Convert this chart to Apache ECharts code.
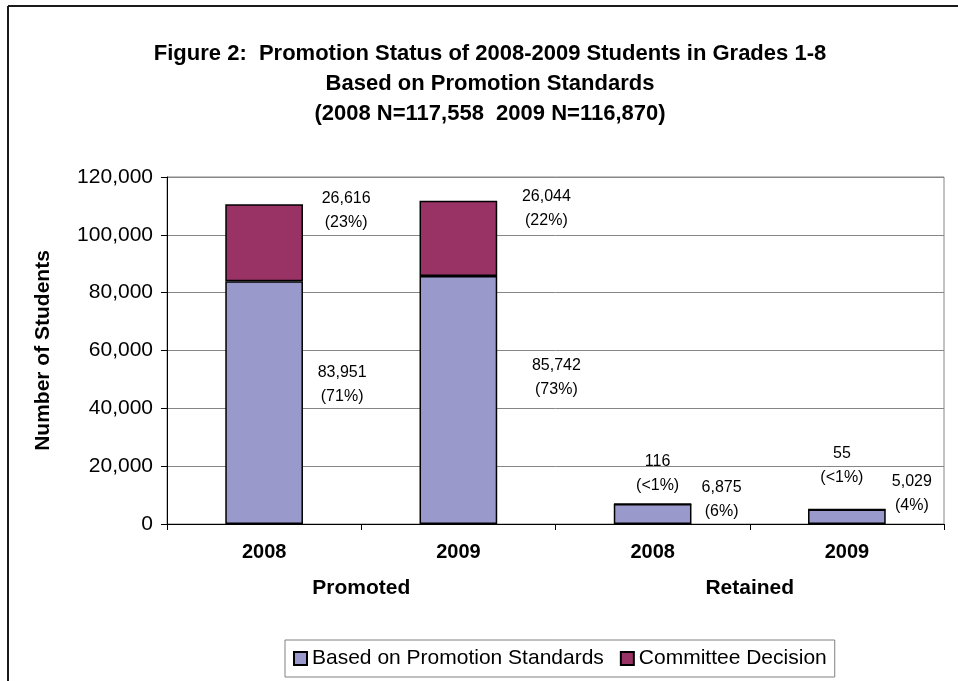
<!DOCTYPE html>
<html>
<head>
<meta charset="utf-8">
<script src="https://cdn.jsdelivr.net/npm/echarts@6/dist/echarts.min.js"></script>
<style>html,body{margin:0;padding:0;background:#fff}#c{width:958px;height:681px}</style>
</head>
<body>
<div id="c"></div>
<script>
const categories = ['2008', '2009', '2008', '2009'];
const groups = ['Promoted', 'Retained'];
const basedValues = [83951, 85742, 6875, 5029];
const committeeValues = [26616, 26044, 116, 55];
const basedPct = ['71%', '73%', '6%', '4%'];
const committeePct = ['23%', '22%', '<1%', '<1%'];
const yTicks = [0, 20000, 40000, 60000, 80000, 100000, 120000];

const FONT = 'Liberation Sans, Arial, sans-serif';
const fmt = v => v.toLocaleString('en-US');

// label offsets relative to bar centre (styling only)
const basedOffsets = [[78, -18], [98, -22], [69, -14], [65, -23]];
const committeeOffsets = [[82, -32], [88, -30], [5, -30], [-5, -44]];

function build(values, pcts, offsets) {
  return values.map((v, i) => ({
    value: v,
    label: {
      show: true, position: 'inside', offset: offsets[i],
      formatter: fmt(v) + '\n(' + pcts[i] + ')'
    }
  }));
}

const chart = echarts.init(document.getElementById('c'));
chart.setOption({
  backgroundColor: '#fff',
  animation: false,
  title: {
    text: 'Figure 2:  Promotion Status of 2008-2009 Students in Grades 1-8\nBased on Promotion Standards\n(2008 N=117,558  2009 N=116,870)',
    left: 485, top: 34, textAlign: 'center',
    textStyle: { fontFamily: FONT, fontSize: 22, fontWeight: 'bold', color: '#000', lineHeight: 30 }
  },
  legend: {
    data: ['Based on Promotion Standards', 'Committee Decision'],
    left: 285, top: 640,
    padding: [8, 8, 8, 8],
    itemGap: 16, itemWidth: 13, itemHeight: 13,
    borderColor: '#808080', borderWidth: 1,
    icon: 'rect',
    textStyle: { fontFamily: FONT, fontSize: 21, color: '#000' }
  },
  grid: {
    left: 167, right: 14, top: 177, bottom: 157,
    show: true, borderColor: '#868686', borderWidth: 1
  },
  xAxis: [{
    type: 'category', data: categories,
    axisLine: { lineStyle: { color: '#000', width: 1 } },
    axisTick: { show: true, length: 6, lineStyle: { color: '#000' } },
    axisLabel: { margin: 18, fontFamily: FONT, fontSize: 20, fontWeight: 'bold', color: '#000' }
  }, {
    type: 'category', data: groups, position: 'bottom',
    axisLine: { show: false }, axisTick: { show: false },
    axisLabel: { margin: 54, fontFamily: FONT, fontSize: 21, fontWeight: 'bold', color: '#000' }
  }],
  yAxis: {
    type: 'value', min: yTicks[0], max: yTicks[yTicks.length - 1], interval: yTicks[1] - yTicks[0],
    name: 'Number of Students', nameLocation: 'middle', nameGap: 113,
    nameTextStyle: { fontFamily: FONT, fontSize: 21, fontWeight: 'bold', color: '#000' },
    axisLine: { show: true, lineStyle: { color: '#000' } },
    axisTick: { show: true, length: 6, lineStyle: { color: '#000' } },
    axisLabel: { margin: 14, fontFamily: FONT, fontSize: 21, color: '#000', formatter: v => fmt(v) },
    splitLine: { lineStyle: { color: '#868686', width: 1 } }
  },
  series: [{
    name: 'Based on Promotion Standards', type: 'bar', stack: 'a', barWidth: '40%',
    itemStyle: { color: '#9999CC', borderColor: '#000', borderWidth: 1.5 },
    label: { fontFamily: FONT, fontSize: 16, color: '#000', lineHeight: 24 },
    data: build(basedValues, basedPct, basedOffsets)
  }, {
    name: 'Committee Decision', type: 'bar', stack: 'a', barWidth: '40%',
    itemStyle: { color: '#993366', borderColor: '#000', borderWidth: 1.5 },
    label: { fontFamily: FONT, fontSize: 16, color: '#000', lineHeight: 24 },
    data: build(committeeValues, committeePct, committeeOffsets)
  }],
  graphic: [
    { type: 'line', shape: { x1: 8, y1: 6, x2: 958, y2: 6 }, style: { stroke: '#1a1a1a', lineWidth: 2 } },
    { type: 'line', shape: { x1: 8, y1: 6, x2: 8, y2: 681 }, style: { stroke: '#1a1a1a', lineWidth: 2 } }
  ]
});
</script>
</body>
</html>
